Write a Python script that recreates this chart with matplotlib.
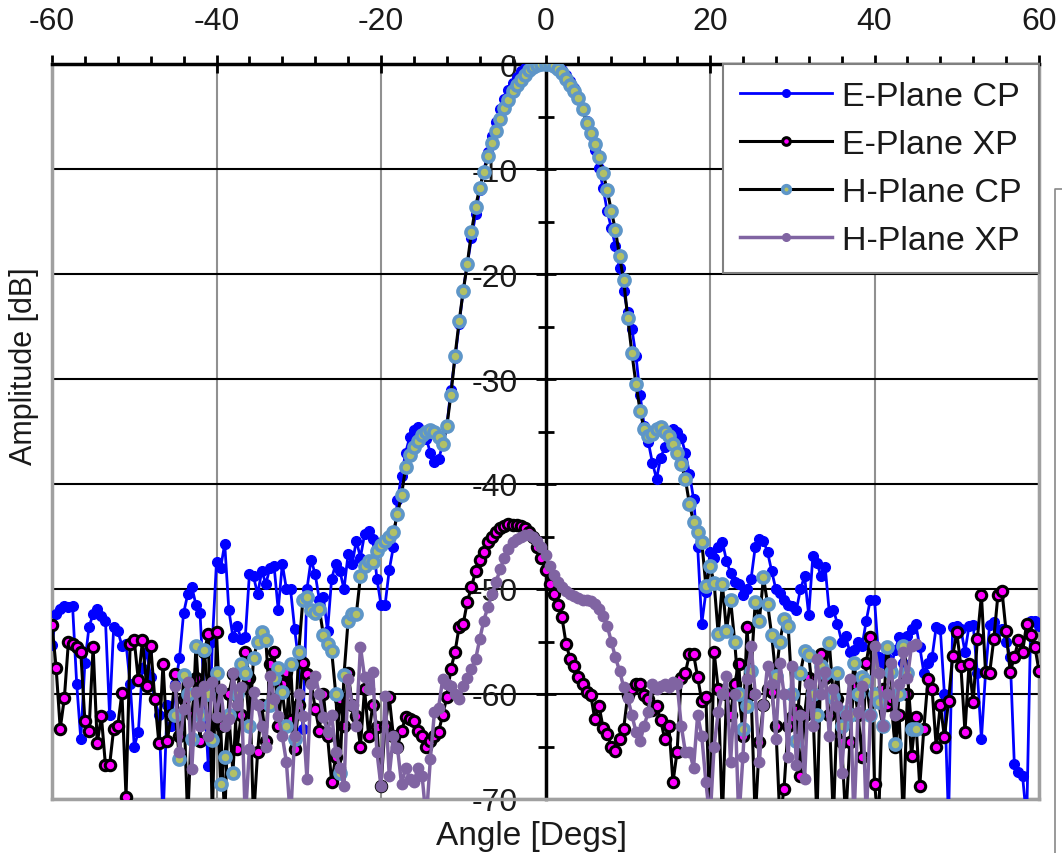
"""Antenna radiation pattern: E/H-plane co- and cross-polar cuts."""

import numpy as np
import matplotlib
matplotlib.use("Agg")
import matplotlib.pyplot as plt
from matplotlib.lines import Line2D
from matplotlib.ticker import MultipleLocator

plt.rcParams["font.family"] = ["Liberation Sans", "DejaVu Sans"]
plt.rcParams["axes.unicode_minus"] = False

# ===================================================
# Data (0.5 deg steps)
# ===================================================
e_angles = np.arange(-60, 60.5, 0.5)
h_angles = np.arange(-45, 45.5, 0.5)

e_plane_cp = [
    -55.3, -52.4, -51.9, -51.6, -51.7, -51.6, -59.0, -64.3, -57.0, -53.6,
    -52.4, -51.9, -52.6, -53.0, -62.0, -53.6, -54.0, -55.4, -55.2, -59.0,
    -65.0, -63.6, -57.5, -56.0, -58.4, -60.5, -62.0, -72.0, -61.0, -63.0,
    -59.0, -56.6, -52.3, -50.5, -49.8, -51.5, -52.3, -60.0, -66.9, -55.0,
    -47.4, -48.0, -45.7, -52.0, -54.6, -53.5, -54.8, -54.6, -48.6, -48.8,
    -50.5, -48.3, -49.5, -48.0, -47.8, -52.0, -47.6, -50.0, -50.0, -53.8,
    -57.0, -63.3, -50.0, -47.2, -48.6, -51.0, -50.8, -54.0, -49.0, -47.6,
    -48.3, -50.0, -46.7, -47.6, -45.4, -47.0, -44.8, -44.5, -45.2, -49.0,
    -51.5, -51.5, -48.2, -46.0, -41.5, -39.2, -37.0, -35.5, -34.9, -34.6,
    -35.0, -35.7, -37.0, -37.9, -37.6, -36.3, -34.5, -31.0, -28.0, -24.8,
    -21.5, -19.0, -16.6, -14.3, -12.0, -10.2, -8.4, -6.9, -5.5, -4.3,
    -3.3, -2.5, -1.8, -1.2, -0.7, -0.4, -0.2, -0.1, 0.0, 0.0,
    0.0, 0.0, -0.1, -0.3, -0.6, -1.0, -1.6, -2.3, -3.2, -4.2,
    -5.4, -6.8, -8.2, -9.9, -11.8, -14.0, -15.6, -17.3, -19.4, -21.6,
    -23.6, -25.2, -27.8, -31.5, -34.5, -36.0, -38.0, -39.5, -37.5, -36.5,
    -35.2, -34.8, -35.0, -35.6, -37.0, -39.0, -41.4, -46.0, -53.3, -50.3,
    -46.5, -47.0, -46.0, -45.5, -47.3, -48.5, -49.3, -49.5, -50.6, -50.0,
    -49.0, -46.0, -45.2, -45.4, -46.5, -48.3, -50.0, -50.4, -51.0, -51.5,
    -51.6, -52.0, -50.0, -48.8, -52.5, -46.9, -47.5, -48.8, -47.9, -52.2,
    -52.0, -53.3, -55.0, -54.5, -56.0, -55.8, -55.0, -55.4, -53.0, -51.0,
    -51.0, -56.5, -57.0, -56.6, -57.5, -55.8, -54.6, -57.0, -54.5, -53.8,
    -53.3, -55.5, -58.0, -57.0, -56.5, -53.6, -53.8, -60.0, -72.0, -53.6,
    -53.5, -53.8, -56.0, -53.5, -53.4, -58.0, -64.3, -58.0, -53.4, -53.1,
    -54.0, -53.8, -55.0, -56.5, -66.7, -67.4, -67.8, -72.0, -53.0, -53.0,
    -53.5,
]

e_plane_xp = [
    -53.4, -57.5, -63.3, -60.4, -55.0, -55.2, -55.5, -56.0, -62.6, -63.5,
    -55.5, -64.7, -62.1, -66.8, -66.8, -63.3, -63.0, -59.9, -69.8, -55.2,
    -54.9, -58.7, -54.9, -59.2, -55.4, -60.5, -64.7, -57.1, -64.5, -62.0,
    -58.1, -64.0, -60.5, -72.0, -62.0, -58.5, -64.5, -56.0, -54.3, -72.0,
    -54.1, -63.0, -72.0, -60.0, -58.1, -65.2, -62.0, -56.0, -58.5, -72.0,
    -65.5, -61.0, -64.5, -57.1, -56.0, -63.0, -59.0, -57.9, -62.5, -65.2,
    -61.0, -57.0, -58.1, -58.9, -61.4, -63.5, -60.0, -64.0, -68.4, -66.0,
    -60.5, -63.0, -58.0, -61.0, -62.1, -65.0, -59.5, -64.0, -61.0, -63.1,
    -68.8, -63.0, -60.3, -64.0, -65.0, -63.5, -62.2, -62.4, -62.6, -63.5,
    -64.0, -65.0, -64.5, -64.0, -63.6, -62.0, -60.3, -57.6, -56.0, -53.6,
    -53.3, -51.2, -49.8, -48.3, -47.2, -46.5, -45.5, -45.0, -44.6, -44.2,
    -44.0, -43.8, -43.9, -43.9, -44.0, -44.2, -44.6, -45.0, -46.0, -47.0,
    -48.2, -49.5, -50.5, -51.5, -52.7, -55.2, -56.7, -57.3, -58.4, -59.0,
    -59.8, -60.1, -62.4, -61.1, -63.2, -63.8, -65.0, -65.4, -64.3, -63.3,
    -60.1, -59.5, -59.0, -59.0, -60.1, -60.5, -61.5, -61.1, -62.5, -64.3,
    -63.0, -68.4, -65.5, -58.5, -58.0, -56.2, -56.2, -58.4, -60.7, -60.3,
    -72.0, -56.0, -59.5, -72.0, -60.0, -62.0, -59.0, -57.1, -64.0, -53.6,
    -60.0, -72.0, -64.6, -61.0, -59.5, -59.8, -63.0, -72.0, -69.0, -63.0,
    -62.2, -61.5, -67.8, -62.0, -58.5, -61.0, -72.0, -56.2, -58.5, -62.0,
    -72.0, -60.5, -64.6, -72.0, -64.6, -59.0, -62.0, -66.0, -57.0, -54.6,
    -68.6, -72.0, -59.5, -61.0, -60.5, -65.0, -62.0, -72.0, -60.0, -65.9,
    -62.2, -68.8, -63.3, -58.6, -59.5, -65.0, -61.0, -64.1, -60.7, -56.4,
    -54.1, -57.3, -63.6, -57.1, -60.8, -54.8, -50.6, -57.9, -58.0, -54.8,
    -50.6, -50.2, -54.0, -57.9, -56.5, -54.9, -56.0, -53.3, -54.4, -55.5,
    -57.8,
]

h_plane_cp = [
    -62.0, -66.2, -58.2, -60.0, -64.3, -55.4, -62.0, -55.8, -60.0, -64.4,
    -58.0, -68.6, -66.0, -62.0, -67.5, -60.0, -57.1, -58.0, -63.0, -56.6,
    -55.0, -54.1, -54.9, -61.0, -58.5, -57.5, -59.8, -63.0, -57.1, -64.3,
    -56.0, -51.0, -50.8, -52.0, -52.3, -51.9, -54.4, -55.2, -55.9, -60.0,
    -67.5, -58.2, -53.0, -52.4, -52.4, -48.8, -47.8, -47.3, -47.4, -46.4,
    -45.8, -45.4, -45.0, -44.6, -42.9, -41.0, -38.4, -37.2, -36.5, -35.9,
    -35.3, -35.0, -34.9, -35.0, -35.5, -36.2, -34.5, -31.5, -27.8, -24.5,
    -21.6, -19.0, -16.0, -13.6, -11.8, -10.3, -8.8, -7.5, -6.4, -5.2,
    -4.2, -3.4, -2.6, -2.0, -1.5, -1.0, -0.6, -0.3, -0.1, 0.0,
    0.0, 0.0, -0.2, -0.5, -0.9, -1.4, -2.0, -2.6, -3.2, -4.3,
    -5.6, -6.6, -7.6, -8.9, -10.4, -12.0, -14.0, -15.8, -18.3, -20.6,
    -24.2, -27.5, -30.5, -33.0, -34.8, -35.4, -35.2, -34.8, -34.6, -35.0,
    -35.4, -36.2, -37.0, -38.1, -39.5, -41.9, -43.6, -44.6, -45.5, -49.7,
    -47.8, -49.4, -54.3, -49.5, -54.0, -51.0, -55.0, -60.0, -63.3, -61.1,
    -57.8, -51.2, -53.0, -48.9, -51.4, -54.4, -58.3, -55.0, -52.9, -53.5,
    -60.0, -64.5, -58.0, -55.9, -56.3, -60.0, -62.0, -57.3, -58.0, -55.1,
    -60.3, -58.0, -63.0, -61.7, -62.0, -57.0, -60.0, -58.4, -58.8, -62.0,
    -60.0, -60.8, -63.0, -55.5, -57.9, -64.8, -60.0, -55.4, -58.0, -63.3,
    -63.3,
]

h_plane_xp = [
    -59.2, -65.5, -61.4, -58.9, -67.1, -59.8, -63.0, -59.2, -64.0, -58.9,
    -62.2, -59.5, -63.0, -62.4, -58.0, -61.0, -59.3, -72.0, -65.2, -59.8,
    -61.0, -63.0, -65.0, -58.3, -60.5, -62.1, -64.0, -66.5, -72.0, -64.0,
    -60.0, -62.1, -68.1, -59.0, -58.3, -60.0, -62.2, -63.6, -62.0, -65.5,
    -67.0, -68.8, -58.6, -61.0, -63.0, -55.5, -58.4, -59.5, -57.9, -65.5,
    -68.8, -60.2, -67.8, -64.0, -65.1, -68.6, -67.0, -68.1, -68.4, -67.0,
    -67.8, -72.0, -66.2, -61.7, -61.3, -58.6, -59.0, -59.2, -60.0, -60.5,
    -59.2, -58.5, -57.6, -56.7, -54.8, -53.0, -51.7, -50.5, -49.3, -48.1,
    -47.0, -46.2, -45.5, -45.2, -45.0, -44.9, -44.9, -45.0, -45.4, -46.0,
    -46.8, -47.8, -48.7, -49.3, -49.8, -50.2, -50.5, -50.7, -50.9, -51.0,
    -51.0, -51.1, -51.4, -51.9, -52.6, -53.5, -55.0, -56.5, -57.8, -59.3,
    -60.4, -62.0, -63.6, -64.5, -63.0, -61.7, -59.0, -59.5, -59.2, -59.0,
    -59.3, -58.9, -59.0, -63.0, -65.5, -65.5, -67.0, -62.0, -64.0, -68.4,
    -72.0, -65.0, -61.7, -60.0, -58.3, -66.5, -60.0, -72.0, -66.0, -58.6,
    -55.4, -60.0, -66.5, -61.0, -57.3, -59.0, -64.3, -57.0, -60.0, -66.0,
    -57.3, -66.8, -62.0, -68.1, -59.0, -63.0, -56.7, -60.0, -57.9, -64.0,
    -59.5, -61.1, -67.5, -62.0, -58.6, -72.0, -61.7, -59.2, -72.0, -62.0,
    -55.4, -58.0, -63.0, -60.0, -57.0, -62.0, -59.0, -56.0, -58.5, -55.4,
    -55.2,
]

x_ticks = [-60, -40, -20, 0, 20, 40, 60]
y_ticks = [-70, -60, -50, -40, -30, -20, -10, 0]

# ===================================================
# Figure
# ===================================================
fig = plt.figure(figsize=(10.62, 8.54), dpi=100)
ax = fig.add_axes([52 / 1062, 1 - 800 / 854, (1039 - 52) / 1062, (800 - 65) / 854])

ax.plot(e_angles, e_plane_cp, color="#0000FF", lw=2.0, marker="o", ms=7,
        mfc="#0000FF", mec="#0000FF", mew=1, label="E-Plane CP", zorder=3)
ax.plot(e_angles, e_plane_xp, color="black", lw=2.2, marker="o", ms=7.5,
        mfc="#FF00FF", mec="black", mew=2.2, label="E-Plane XP", zorder=3)
ax.plot(h_angles, h_plane_cp, color="black", lw=2.2, marker="o", ms=8,
        mfc="#B2C165", mec="#5E96C8", mew=2.6, label="H-Plane CP", zorder=3)
ax.plot(h_angles, h_plane_xp, color="#8064A2", lw=2.5, marker="o", ms=7.5,
        mfc="#8064A2", mec="#8064A2", mew=1, label="H-Plane XP", zorder=3)

ax.set_xlim(-60, 60)
ax.set_ylim(-70, 0)

# spines: value axis sits at x = 0, grey frame elsewhere
ax.spines["left"].set_position(("data", 0))
ax.spines["left"].set_color("black")
ax.spines["left"].set_linewidth(2.5)
ax.spines["top"].set_color("black")
ax.spines["top"].set_linewidth(2.5)
for side in ["bottom", "right"]:
    ax.spines[side].set_color("#A0A0A0")
    ax.spines[side].set_linewidth(2.5)
ax.add_line(Line2D([0, 0], [0, 1], transform=ax.transAxes, color="#A0A0A0",
                   lw=2.5, clip_on=False, zorder=2))

# ticks
ax.xaxis.tick_top()
ax.set_xticks(x_ticks)
ax.xaxis.set_minor_locator(MultipleLocator(4))
ax.tick_params(axis="x", which="major", direction="inout", length=13, width=2,
               pad=14, labelsize=23, labelcolor="#1a1a1a")
ax.tick_params(axis="x", which="minor", direction="out", length=6, width=2)

ax.set_yticks(y_ticks)
ax.yaxis.set_minor_locator(MultipleLocator(5))
ax.tick_params(axis="y", which="major", direction="inout", length=14, width=2,
               pad=13, labelsize=23, labelcolor="#1a1a1a", right=False)
ax.tick_params(axis="y", which="minor", direction="inout", length=12, width=2, right=False)

ax.set_axisbelow(True)
ax.yaxis.grid(True, which="major", color="black", lw=1.5)
ax.xaxis.grid(True, which="major", color="#909090", lw=1.5)

# legend
leg = ax.legend(loc="upper right", fontsize=24.5, frameon=True, fancybox=False,
                edgecolor="#808080", framealpha=1, borderaxespad=0,
                handlelength=2.7, handletextpad=0.3, labelspacing=0.5, borderpad=0.5)
leg.get_frame().set_linewidth(1.5)
leg.set_zorder(5)
for line in leg.get_lines():
    line.set_markersize(5.5)
for txt in leg.get_texts():
    txt.set_color("#1a1a1a")

# axis titles
fig.text(531 / 1062, 1 - 845 / 854, "Angle [Degs]", ha="center", va="baseline",
         fontsize=24, color="#1a1a1a")
fig.text(24 / 1062, 1 - 366 / 854, "Amplitude [dB]", rotation=90, ha="center",
         va="center", fontsize=22, color="#1a1a1a")

# stray chart-area border at the right edge
fig.add_artist(Line2D([1.0, 1055 / 1062, 1055 / 1062], [1 - 190 / 854, 1 - 190 / 854, 0],
                      transform=fig.transFigure, color="#888888", lw=1.2))

fig.savefig("out.png", dpi=100)
plt.close(fig)
